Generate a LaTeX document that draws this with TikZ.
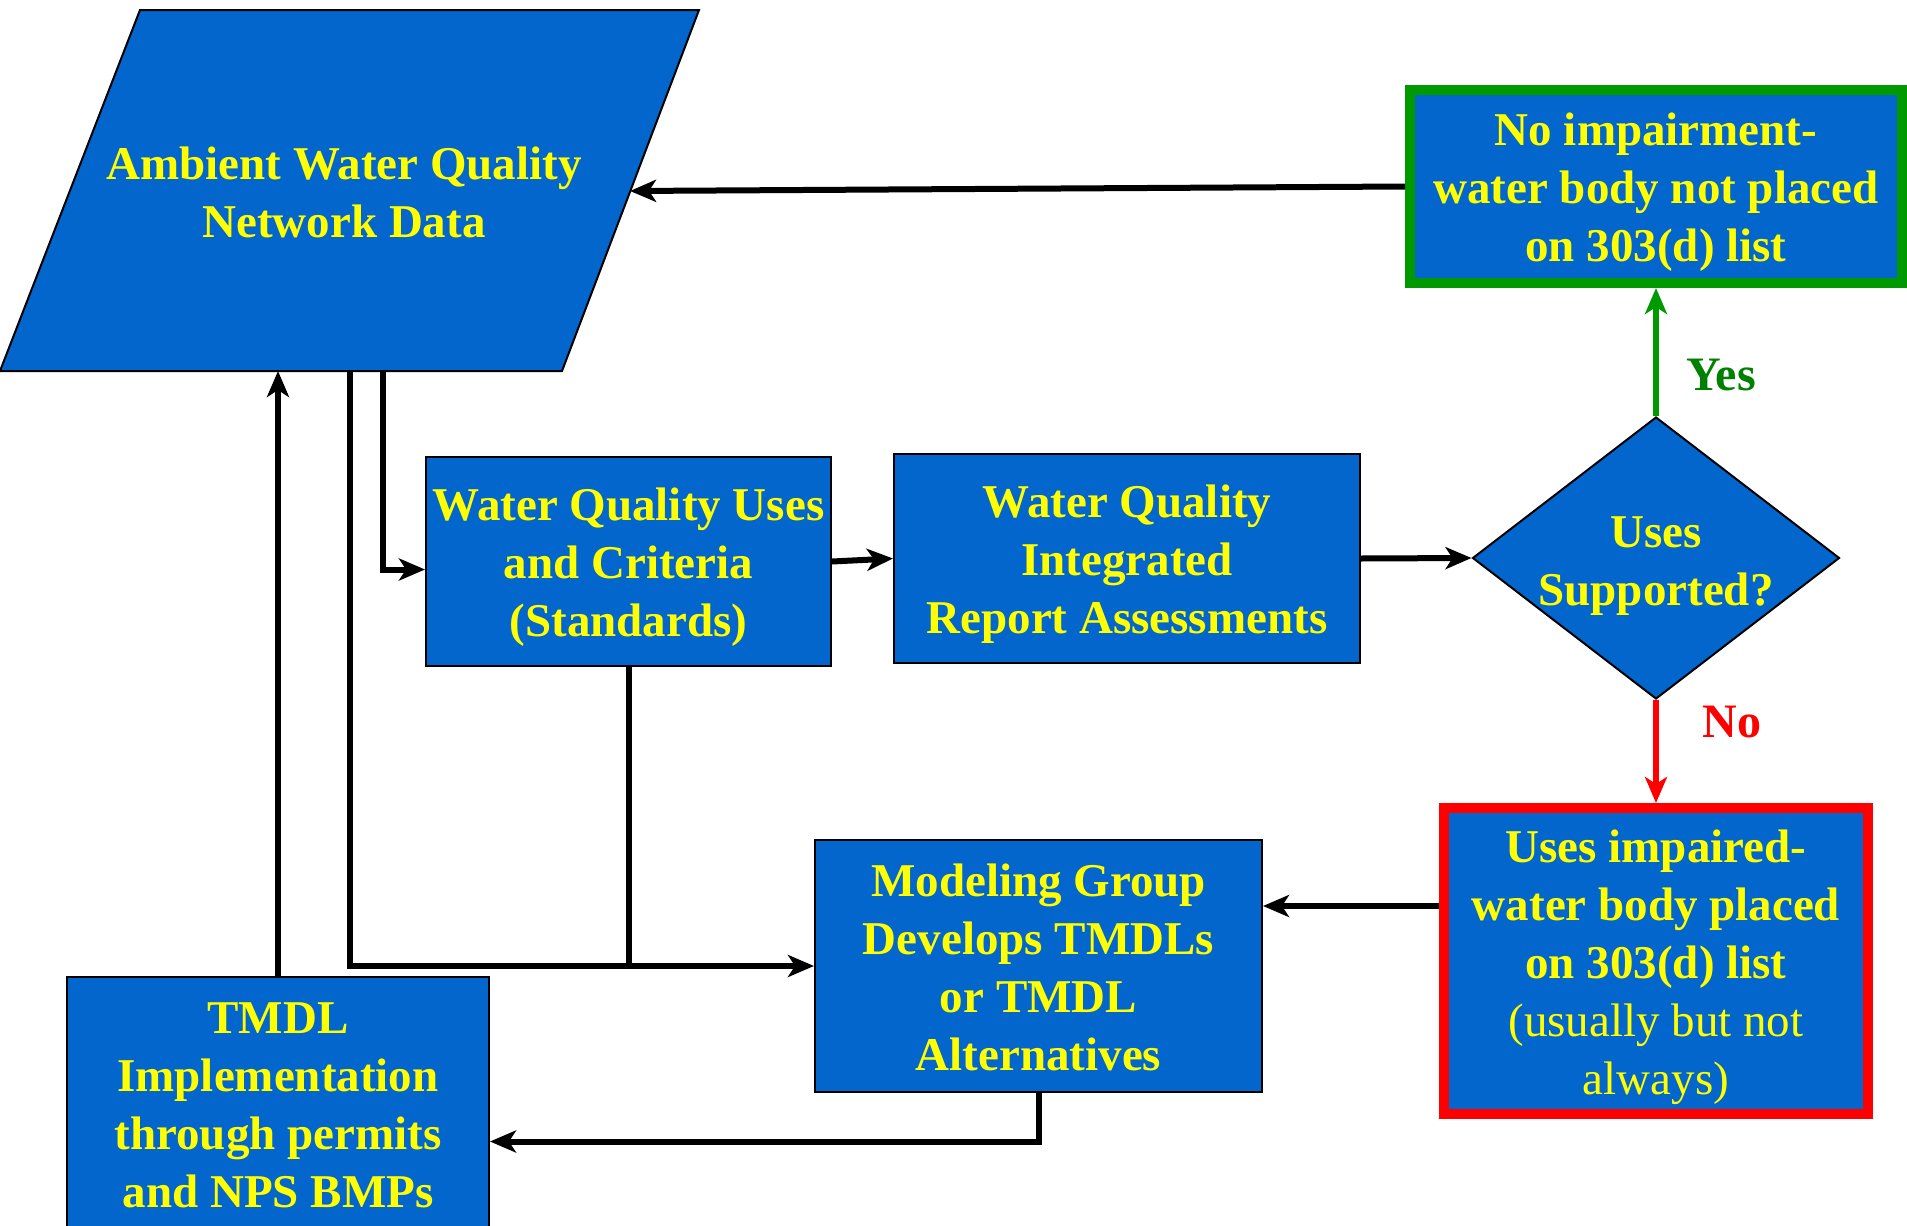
\documentclass[tikz,border=0pt]{standalone}
\usepackage{fontspec}
\setmainfont{Liberation Serif}
\usetikzlibrary{shapes.geometric,arrows.meta}
\definecolor{boxblue}{RGB}{2,102,204}
\definecolor{txtyellow}{RGB}{255,255,0}
\definecolor{gborder}{RGB}{0,153,0}
\definecolor{gtext}{RGB}{0,128,0}
\definecolor{rborder}{RGB}{255,0,0}
\tikzset{
  blk/.style={draw=black,line width=2pt,fill=boxblue,inner sep=0pt},
  txt/.style={inner sep=0pt,text=txtyellow,align=center,font={\fontsize{47}{58}\selectfont\bfseries}},
  arr/.style={draw=black,line width=6pt,-{Stealth[length=26pt,width=22pt,inset=7pt]}},
  ln/.style={draw=black,line width=6pt},
  garr/.style={draw=gborder,line width=6pt,-{Stealth[length=26pt,width=22pt,inset=7pt]}},
  rarr/.style={draw=rborder,line width=6pt,-{Stealth[length=26pt,width=22pt,inset=7pt]}},
  lbl/.style={inner sep=0pt,font={\fontsize{48}{57}\selectfont\bfseries}}
}
\begin{document}
\begin{tikzpicture}[x=1pt,y=-1pt]
\useasboundingbox (0,0) rectangle (1907,1226);
% parallelogram
\draw[line width=2pt,fill=boxblue] (140,10) -- (699,10) -- (562,371) -- (0,371) -- cycle;
\node[txt] (amb) at (344,192) {Ambient Water Quality\\Network Data};
\coordinate (pr) at (630,191);
\coordinate (pb1) at (278,371);
\coordinate (pb2) at (350,371);
\coordinate (pb3) at (383,371);
% boxes
\node[blk,minimum width=405pt,minimum height=209pt] (std) at (628.5,561.5) {};
\node[txt] (stdtxt) at ([yshift=-6pt]std.center) {Water Quality Uses\\and Criteria\\(Standards)};
\node[blk,minimum width=466pt,minimum height=209pt] (iar) at (1127,558.5) {};
\node[txt] (iartxt) at ([yshift=-6pt]iar.center) {Water Quality\\Integrated\\Report Assessments};
\node[blk,minimum width=447pt,minimum height=252pt] (mod) at (1038.5,966) {};
\node[txt] (modtxt) at ([yshift=-1pt]mod.center) {Modeling Group\\Develops TMDLs\\or TMDL\\Alternatives};
\node[blk,minimum width=422pt,minimum height=255pt] (tmdl) at (278,1104.5) {};
\node[txt] (tmdltxt) at ([yshift=-1pt]tmdl.center) {TMDL\\Implementation\\through permits\\and NPS BMPs};
\node[blk,draw=gborder,line width=10pt,minimum width=492pt,minimum height=193pt] (gbox) at (1656,186.5) {};
\node[txt] (gtxt) at ([yshift=-6pt]gbox.center) {No impairment-\\water body not placed\\on 303(d) list};
\node[blk,draw=rborder,line width=10pt,minimum width=424pt,minimum height=306pt] (rbox) at (1656,961) {};
\node[txt] (rtxt) at ([yshift=-6pt]rbox.center) {Uses impaired-\\water body placed\\on 303(d) list\\{\mdseries(usually but not}\\{\mdseries always)}};
\node[diamond,draw=black,line width=2pt,fill=boxblue,inner sep=0pt,minimum width=367pt,minimum height=282pt] (dec) at (1656,558) {};
\node[txt] (dectxt) at ([yshift=-8pt]dec.center) {Uses\\Supported?};
% labels
\node[lbl,text=gtext] (yes) at (1721,375) {Yes};
\node[lbl,text=rborder] (no) at (1732,722) {No};
% connectors
\draw[arr] (gbox.west) -- (pr);
\draw[garr] (dec.north) -- (gbox.south);
\draw[rarr] (dec.south) -- (rbox.north);
\draw[arr] (iar.east) -- (dec.west);
\draw[arr] (std.east) -- (iar.west);
\draw[arr] (tmdl.north) -- (pb1);
\draw[arr] (pb2) |- (mod.west);
\draw[arr] (pb3) |- ([yshift=-8pt]std.west);
\draw[ln] (std.south) -- (std.south |- mod.west);
\draw[arr] (mod.south) |- ([yshift=-37pt]tmdl.east);
\draw[arr] ([yshift=55pt]rbox.west) -- ([yshift=55pt]rbox.west -| mod.east);
\end{tikzpicture}
\end{document}
